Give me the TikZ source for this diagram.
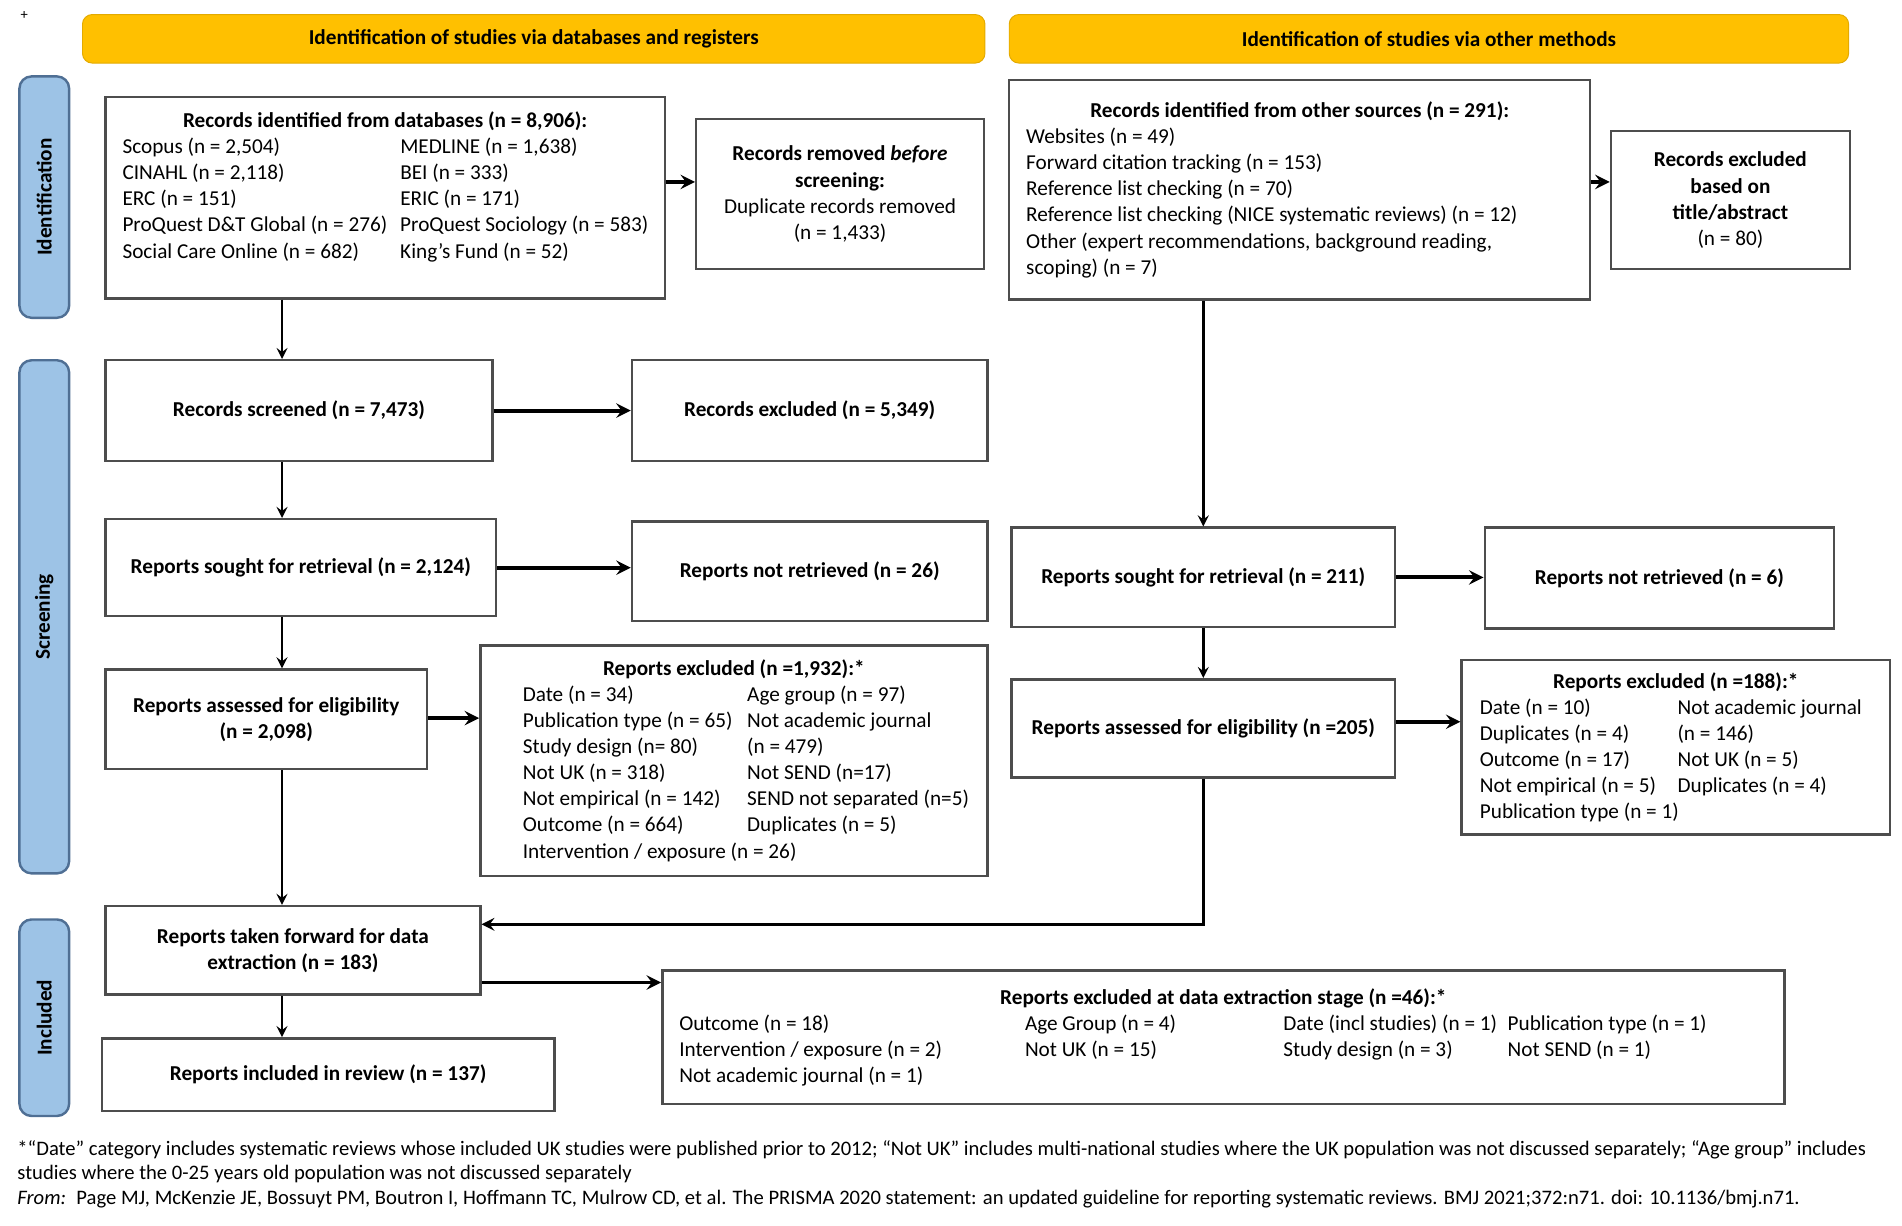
\documentclass[tikz,border=0pt]{standalone}
\usepackage{fontspec}
\setmainfont{Carlito}
\usepackage{tikz}
\usetikzlibrary{calc, arrows}
\definecolor{bannergold}{HTML}{FFC000}
\definecolor{banneredge}{HTML}{E3AA00}
\definecolor{phaseblue}{HTML}{9DC3E6}
\definecolor{phaseedge}{HTML}{4F6F94}
\definecolor{boxedge}{HTML}{4D4D4D}
\tikzstyle{flowarrow} = [line width=1pt,->,>=stealth]
\tikzstyle{sidearrow} = [line width=1.6pt,->,>=stealth]
\newcommand{\cellbox}[2]{\makebox[#1][l]{#2}}

\begin{document}
\begin{tikzpicture}[
    x=0.5pt, y=-0.5pt,
    box/.style={draw=boxedge, line width=1pt, fill=white, inner sep=0pt, align=center,
      font=\fontsize{8.75}{10.75}\selectfont},
    banner/.style={draw=banneredge, fill=bannergold, rounded corners=4pt, inner sep=0pt,
      font=\bfseries\fontsize{8.75}{10.75}\selectfont},
    phase/.style={draw=phaseedge, line width=1pt, fill=phaseblue, rounded corners=5pt, inner sep=0pt,
      minimum width=20.5pt},
    phaselabel/.style={rotate=90, font=\bfseries\fontsize{8.75}{10.75}\selectfont},
  ]
  \useasboundingbox (0,0) rectangle (1568,1010);
  \node[font=\fontsize{6}{7}\selectfont] (handle) at (20,13) {+};

  % headers
  \node[banner, minimum width=372pt, minimum height=20pt] (dbhead) at (440,32) {Identification of studies via databases and registers};
  \node[banner, minimum width=346pt, minimum height=20pt] (otherhead) at (1178,32) {Identification of studies via other methods};

  % phase bars
  \node[phase, minimum height=99.5pt] (idbar) at (36.5,162.5) {};
  \node[phaselabel] (idlabel) at (idbar) {Identification};
  \node[phase, minimum height=211.5pt] (screenbar) at (36.5,508.5) {};
  \node[phaselabel] (screenlabel) at (screenbar) {Screening};
  \node[phase, minimum height=81pt] (inclbar) at (36.5,839) {};
  \node[phaselabel] (incllabel) at (inclbar) {Included};

  % databases and registers
  \node[box, minimum width=230.5pt, minimum height=83pt] (ident) at (317.5,163) {
    \textbf{Records identified from databases (n = 8,906):}\\
    \cellbox{114.5pt}{Scopus (n = 2,504)}\cellbox{102pt}{MEDLINE (n = 1,638)}\\
    \cellbox{114.5pt}{CINAHL (n = 2,118)}\cellbox{102pt}{BEI (n = 333)}\\
    \cellbox{114.5pt}{ERC (n = 151)}\cellbox{102pt}{ERIC (n = 171)}\\
    \cellbox{114.5pt}{ProQuest D\&T Global (n = 276)}\cellbox{102pt}{ProQuest Sociology (n = 583)}\\
    \cellbox{114.5pt}{Social Care Online (n = 682)}\cellbox{102pt}{King's Fund (n = 52)}\rule[-10.5pt]{0pt}{1pt}
  };
  \node[box, minimum width=118.5pt, minimum height=62pt] (removed) at (692.5,160) {
    \textbf{Records removed \textit{before}}\\ \textbf{screening:}\\
    Duplicate records removed\\ (n = 1,433)
  };
  \node[box, minimum width=159.5pt, minimum height=41.5pt] (screened) at (246.5,338.5) {\textbf{Records screened (n = 7,473)}};
  \node[box, minimum width=146.5pt, minimum height=41.5pt] (excl5349) at (667.5,338.5) {\textbf{Records excluded (n = 5,349)}};
  \node[box, minimum width=161pt, minimum height=40pt] (sought) at (248,468) {\textbf{Reports sought for retrieval (n = 2,124)}};
  \node[box, minimum width=146.5pt, minimum height=41pt] (notret26) at (667.5,471) {\textbf{Reports not retrieved (n = 26)}};
  \node[box, minimum width=132.5pt, minimum height=41pt] (assessed) at (219.5,593) {\textbf{Reports assessed for eligibility}\\ \textbf{(n = 2,098)}};
  \node[box, minimum width=209pt, minimum height=95pt] (excl1932) at (605,627) {
    \textbf{Reports excluded (n =1,932):*}\\
    \cellbox{92.5pt}{Date (n = 34)}\cellbox{81.5pt}{Age group (n = 97)}\\
    \cellbox{92.5pt}{Publication type (n = 65)}\cellbox{81.5pt}{Not academic journal}\\
    \cellbox{92.5pt}{Study design (n= 80)}\cellbox{81.5pt}{(n = 479)}\\
    \cellbox{92.5pt}{Not UK (n = 318)}\cellbox{81.5pt}{Not SEND (n=17)}\\
    \cellbox{92.5pt}{Not empirical (n = 142)}\cellbox{81.5pt}{SEND not separated (n=5)}\\
    \cellbox{92.5pt}{Outcome (n = 664)}\cellbox{81.5pt}{Duplicates (n = 5)}\\
    \cellbox{92.5pt}{Intervention / exposure (n = 26)}\cellbox{81.5pt}{}
  };
  \node[box, minimum width=154.5pt, minimum height=36.5pt] (forward) at (241.5,783.5) {\textbf{Reports taken forward for data}\\ \textbf{extraction (n = 183)}};
  \node[box, minimum width=186.5pt, minimum height=30pt] (included) at (270.5,886) {\textbf{Reports included in review (n = 137)}};
  \node[box, minimum width=462.5pt, minimum height=55pt] (extract) at (1008.5,855) {
    \textbf{Reports excluded at data extraction stage (n =46):*}\\
    \cellbox{142.5pt}{Outcome (n = 18)}\cellbox{106.5pt}{Age Group (n = 4)}\cellbox{92.5pt}{Date (incl studies) (n = 1)}\cellbox{107pt}{Publication type (n = 1)}\\
    \cellbox{142.5pt}{Intervention / exposure (n = 2)}\cellbox{106.5pt}{Not UK (n = 15)}\cellbox{92.5pt}{Study design (n = 3)}\cellbox{107pt}{Not SEND (n = 1)}\\
    \cellbox{142.5pt}{Not academic journal (n = 1)}\cellbox{106.5pt}{}\cellbox{92.5pt}{}\cellbox{107pt}{}
  };

  % other methods
  \node[box, minimum width=239.5pt, minimum height=90.5pt] (other) at (1071.5,156.5) {
    \textbf{Records identified from other sources (n = 291):}\\
    \cellbox{225.5pt}{Websites (n = 49)}\\
    \cellbox{225.5pt}{Forward citation tracking (n = 153)}\\
    \cellbox{225.5pt}{Reference list checking (n = 70)}\\
    \cellbox{225.5pt}{Reference list checking (NICE systematic reviews) (n = 12)}\\
    \cellbox{225.5pt}{Other (expert recommendations, background reading,}\\
    \cellbox{225.5pt}{scoping) (n = 7)}
  };
  \node[box, minimum width=98.5pt, minimum height=57pt] (titleabs) at (1426.5,165) {
    \textbf{Records excluded}\\ \textbf{based on}\\ \textbf{title/abstract}\\ (n = 80)
  };
  \node[box, minimum width=158pt, minimum height=41pt] (sought211) at (992,476) {\textbf{Reports sought for retrieval (n = 211)}};
  \node[box, minimum width=144pt, minimum height=41.5pt] (notret6) at (1368,476.5) {\textbf{Reports not retrieved (n = 6)}};
  \node[box, minimum width=158pt, minimum height=40.5pt] (assessed205) at (992,600.5) {\textbf{Reports assessed for eligibility (n =205)}};
  \node[box, minimum width=176.5pt, minimum height=72pt] (excl188) at (1381.5,616) {
    \textbf{Reports excluded (n =188):*}\\
    \cellbox{81.5pt}{Date (n = 10)}\cellbox{80pt}{Not academic journal}\\
    \cellbox{81.5pt}{Duplicates (n = 4)}\cellbox{80pt}{(n = 146)}\\
    \cellbox{81.5pt}{Outcome (n = 17)}\cellbox{80pt}{Not UK (n = 5)}\\
    \cellbox{81.5pt}{Not empirical (n = 5)}\cellbox{80pt}{Duplicates (n = 4)}\\
    \cellbox{81.5pt}{Publication type (n = 1)}\cellbox{80pt}{}
  };

  % footnote
  \node[anchor=north west, align=left, inner sep=0pt, font=\fontsize{8.5}{10}\selectfont] (note) at (14,940) {
    *“Date” category includes systematic reviews whose included UK studies were published prior to 2012; “Not UK” includes multi-national studies where the UK population was not discussed separately; “Age group” includes\\
    studies where the 0-25 years old population was not discussed separately\\
    \textit{From:}\enspace Page MJ, McKenzie JE, Bossuyt PM, Boutron I, Hoffmann TC, Mulrow CD, et al. The PRISMA 2020 statement: an updated guideline for reporting systematic reviews. BMJ 2021;372:n71. doi: 10.1136/bmj.n71.
  };

  % lanes for connectors
  \coordinate (lane) at (232.5,0);
  \coordinate (rowtop) at (0,150);
  \coordinate (row2098) at (0,592);
  \coordinate (row205) at (0,595);
  \coordinate (rowback) at (0,762);
  \coordinate (rowextract) at (0,810);

  \draw[flowarrow] (ident.south -| lane) -- (screened.north -| lane);
  \draw[flowarrow] (screened.south -| lane) -- (sought.north -| lane);
  \draw[flowarrow] (sought.south -| lane) -- (assessed.north -| lane);
  \draw[flowarrow] (assessed.south -| lane) -- (forward.north -| lane);
  \draw[flowarrow] (forward.south -| lane) -- (included.north -| lane);
  \draw[sidearrow] (ident.east |- rowtop) -- (removed.west |- rowtop);
  \draw[sidearrow] (screened.east) -- (excl5349.west);
  \draw[sidearrow] (sought.east) -- (notret26.west |- sought.east);
  \draw[sidearrow] (assessed.east |- row2098) -- (excl1932.west |- row2098);
  \draw[sidearrow] (forward.east |- rowextract) -- (extract.west |- rowextract);

  \draw[flowarrow] (other.south -| sought211.north) -- (sought211.north);
  \draw[sidearrow] (other.east |- rowtop) -- (titleabs.west |- rowtop);
  \draw[sidearrow] (sought211.east) -- (notret6.west |- sought211.east);
  \draw[flowarrow] (sought211.south) -- (assessed205.north);
  \draw[sidearrow] (assessed205.east |- row205) -- (excl188.west |- row205);
  \draw[flowarrow, line width=1.3pt] (assessed205.south) |- (forward.east |- rowback);
\end{tikzpicture}
\end{document}
